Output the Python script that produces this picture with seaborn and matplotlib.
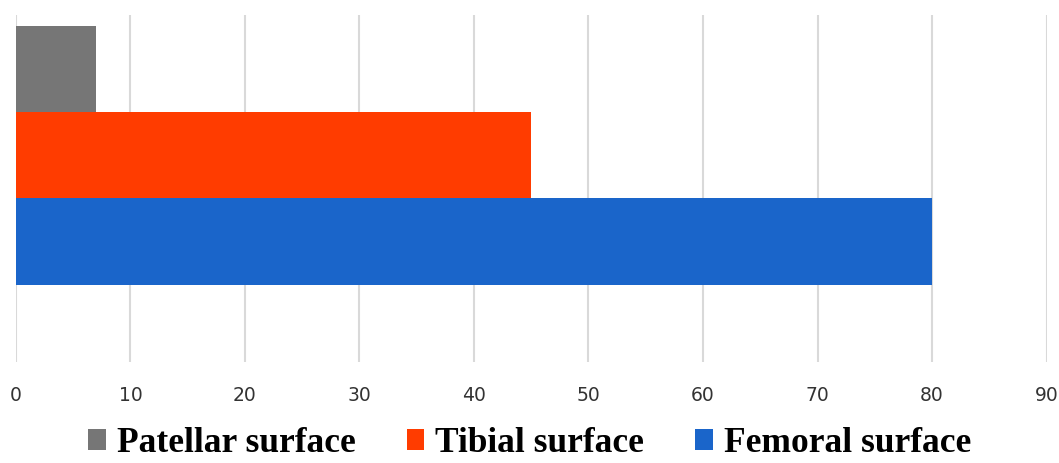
import matplotlib
matplotlib.use("Agg")
import matplotlib.pyplot as plt
from matplotlib.patches import Patch
import seaborn as sns
import pandas as pd

# Data
surfaces = ["Patellar surface", "Tibial surface", "Femoral surface"]
values = [7, 45, 80]
colors = ["#767676", "#FF3C00", "#1A65CA"]
x_ticks = [0, 10, 20, 30, 40, 50, 60, 70, 80, 90]

df = pd.DataFrame({"group": ["Knee"] * len(surfaces), "surface": surfaces, "value": values})

sns.set_style("white")
fig = plt.figure(figsize=(10.59, 4.63), dpi=100)
ax = fig.add_axes([0.0151, 0.2181, 0.9731, 0.7495])

sns.barplot(data=df, x="value", y="group", hue="surface", hue_order=surfaces,
            palette=colors, orient="h", width=0.8, saturation=1, errorbar=None,
            linewidth=0, legend=False, ax=ax, zorder=3)

ax.set_xlim(0, 90)
ax.set_ylim(0.639, -0.434)
ax.set_xticks(x_ticks)
ax.set_xticklabels([str(t) for t in x_ticks], fontsize=13.5, color="#333333",
                   family="DejaVu Sans")
ax.tick_params(axis="x", length=0, pad=17)
ax.set_yticks([])
ax.set_xlabel("")
ax.set_ylabel("")
ax.grid(axis="x", color="#d9d9d9", linewidth=1.5, zorder=0)
ax.set_axisbelow(True)
for s in ax.spines.values():
    s.set_visible(False)

handles = [Patch(facecolor=c, edgecolor="none") for c in colors]
leg = fig.legend(handles, surfaces, loc="center", bbox_to_anchor=(0.5, 0.042),
                 ncol=3, frameon=False, handlelength=0.5, handleheight=0.5,
                 handletextpad=0.3, columnspacing=1.45, borderpad=0.2,
                 prop={"family": "Liberation Serif", "weight": "bold", "size": 25.5})
for t in leg.get_texts():
    t.set_color("black")

fig.savefig("out.png", dpi=100)
